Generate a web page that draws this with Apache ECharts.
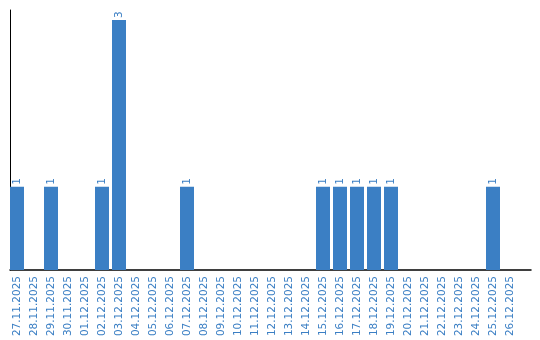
<!DOCTYPE html>
<html><head><meta charset="utf-8">
<script src="https://cdn.jsdelivr.net/npm/echarts@6/dist/echarts.min.js"></script>
<style>html,body{margin:0;padding:0;background:#fff}#c{width:540px;height:340px}</style>
</head><body><div id="c"></div>
<script>
const categories = ["27.11.2025","28.11.2025","29.11.2025","30.11.2025","01.12.2025","02.12.2025","03.12.2025","04.12.2025","05.12.2025","06.12.2025","07.12.2025","08.12.2025","09.12.2025","10.12.2025","11.12.2025","12.12.2025","13.12.2025","14.12.2025","15.12.2025","16.12.2025","17.12.2025","18.12.2025","19.12.2025","20.12.2025","21.12.2025","22.12.2025","23.12.2025","24.12.2025","25.12.2025","26.12.2025"];
const counts = [1,0,1,0,0,1,3,0,0,0,1,0,0,0,0,0,0,0,1,1,1,1,1,0,0,0,0,0,1,0];
const blue = '#3b7fc4';
const chart = echarts.init(document.getElementById('c'));
chart.setOption({
  animation:false,
  grid:[{left:8.5,right:21.5,top:10,bottom:70},{left:10,right:9,top:10,bottom:70}],
  xAxis:[{type:'category',data:categories,gridIndex:0,
    axisLine:{show:false},axisTick:{show:false},
    axisLabel:{rotate:90,color:blue,fontFamily:'DejaVu Sans',fontSize:10.5,margin:6,interval:0}},
    {type:'value',gridIndex:1,min:0,max:1,axisLine:{show:true,onZero:false,lineStyle:{color:'#000',width:1.5}},axisTick:{show:false},axisLabel:{show:false},splitLine:{show:false}}],
  yAxis:[{type:'value',gridIndex:0,min:0,max:3.12,show:false},
    {type:'value',gridIndex:1,min:0,max:1,axisLine:{show:true,onZero:false,lineStyle:{color:'#000',width:1}},axisTick:{show:false},axisLabel:{show:false},splitLine:{show:false}}],
  series:[{type:'bar',data:counts.map(v=>v===0?null:v),barWidth:14,barGap:0,
    itemStyle:{color:blue},
    label:{show:true,position:'top',rotate:90,align:'left',verticalAlign:'middle',distance:2,color:blue,fontFamily:'DejaVu Sans',fontSize:10.5}}]
});
</script></body></html>
